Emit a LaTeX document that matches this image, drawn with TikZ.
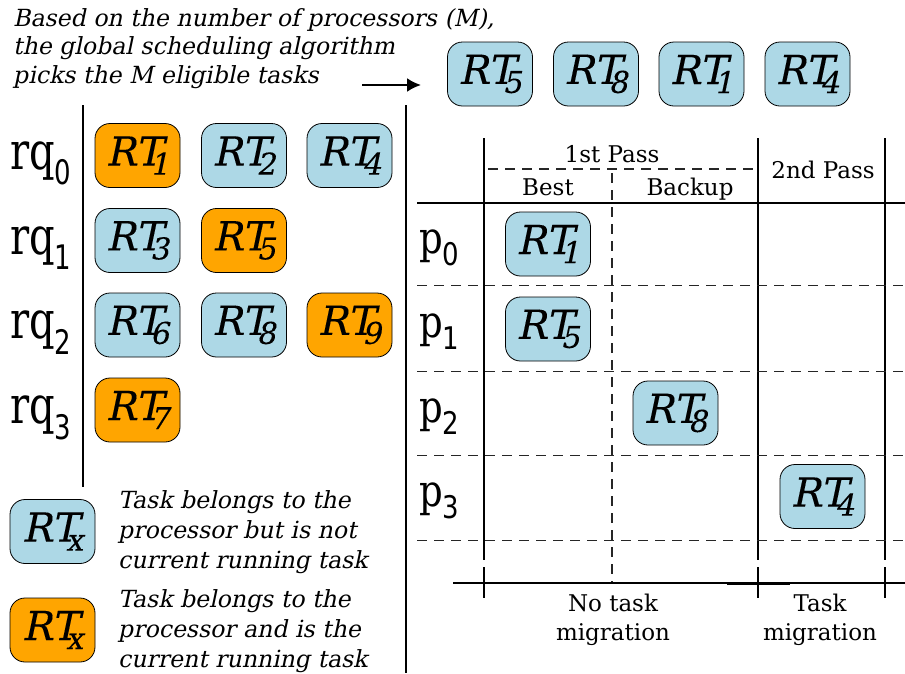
\documentclass[tikz,border=0pt]{standalone}
\usepackage{fontspec}
\setmainfont{DejaVu Serif}[ItalicFont={DejaVu Serif}, ItalicFeatures={FakeSlant=0.21}]
\newfontfamily\dsans{DejaVu Sans}
\newfontfamily\rtfont{DejaVu Serif}[FakeSlant=0.21, FakeBold=0.15]
\usetikzlibrary{arrows.meta}
\definecolor{boxblue}{RGB}{173,216,230}
\definecolor{boxorange}{RGB}{255,165,0}
\newcommand\rtlab[1]{\rtfont\fontsize{40}{40}\selectfont RT\kern-0.3em\raisebox{-9pt}{\fontsize{30}{30}\selectfont #1}}
\newcommand\rqlab[2]{\scalebox{1}[1.3]{\fontsize{40}{40}\selectfont #1\raisebox{-12pt}{\dsans\fontsize{26}{26}\selectfont #2}}}
\newcommand\plab[2]{\scalebox{1}[1.2]{\fontsize{37}{37}\selectfont #1\raisebox{-10pt}{\dsans\fontsize{26}{26}\selectfont #2}}}
\begin{document}
\begin{tikzpicture}[x=1pt,y=-1pt,
  rtbox/.style={draw=black, line width=0.8pt, rounded corners=15pt, minimum width=85pt, minimum height=64pt, inner sep=0pt},
  bbox/.style={rtbox, fill=boxblue},
  obox/.style={rtbox, fill=boxorange},
  itxt/.style={anchor=base west, inner sep=0pt, font=\fontsize{23.6}{23.6}\selectfont\itshape},
  htxt/.style={anchor=base, inner sep=0pt, font=\fontsize{23}{23}\selectfont},
  lab/.style={anchor=base west, inner sep=0pt},
  sep/.style={line width=1.3pt},
  solid line/.style={line width=1.8pt},
  dline/.style={line width=1pt, draw=black!85, dash pattern=on 10pt off 7pt},
]
\path[use as bounding box] (0,0) rectangle (905,673);

% top text
\node[itxt] (t1) at (13,26) {Based on the number of processors (M),};
\node[itxt] (t2) at (13,54.5) {the global scheduling algorithm};
\node[itxt] (t3) at (13,83) {picks the M eligible tasks};
\coordinate (a1) at (362,85);
\coordinate (a2) at (421,85);
\draw[line width=2.2pt, -{Latex[length=14pt,width=14pt]}] (a1) -- (a2);

% picked tasks
\node[bbox] (s1) at (490,74) {\rtlab{5}};
\node[bbox] (s2) at (596,74) {\rtlab{8}};
\node[bbox] (s3) at (701.5,74) {\rtlab{1}};
\node[bbox] (s4) at (807.5,74) {\rtlab{4}};

% separators
\coordinate (v1a) at (83,105); \coordinate (v1b) at (83,487);
\coordinate (v2a) at (406,105); \coordinate (v2b) at (406,673);
\draw[sep] (v1a) -- (v1b);
\draw[sep] (v2a) -- (v2b);

% run queues
\node[lab] (rq0) at (10,169) {\rqlab{rq}{0}};
\node[lab] (rq1) at (10,254) {\rqlab{rq}{1}};
\node[lab] (rq2) at (10,338.5) {\rqlab{rq}{2}};
\node[lab] (rq3) at (10,423.5) {\rqlab{rq}{3}};

\node[obox] (q01) at (137.5,155.5) {\rtlab{1}};
\node[bbox] (q02) at (244,155.5) {\rtlab{2}};
\node[bbox] (q04) at (349.5,155.5) {\rtlab{4}};
\node[bbox] (q13) at (137.5,240.5) {\rtlab{3}};
\node[obox] (q15) at (244,240.5) {\rtlab{5}};
\node[bbox] (q26) at (137.5,325) {\rtlab{6}};
\node[bbox] (q28) at (244,325) {\rtlab{8}};
\node[obox] (q29) at (349.5,325) {\rtlab{9}};
\node[obox] (q37) at (137.5,410) {\rtlab{7}};

% legend
\node[bbox] (lb) at (52.5,531.5) {\rtlab{x}};
\node[obox] (lo) at (52.5,630) {\rtlab{x}};
\node[itxt] (lb1) at (118,508) {Task belongs to the};
\node[itxt] (lb2) at (118,538) {processor but is not};
\node[itxt] (lb3) at (118,568) {current running task};
\node[itxt] (lo1) at (118,607) {Task belongs to the};
\node[itxt] (lo2) at (118,637) {processor and is the};
\node[itxt] (lo3) at (118,667) {current running task};

% table lines
\foreach \x/\n in {484/A,758/B,885/C}{
  \coordinate (top\n) at (\x,138);
  \coordinate (bot\n) at (\x,560);
  \draw[solid line] (top\n) -- (bot\n);
  \coordinate (tka\n) at (\x,567);
  \coordinate (tkb\n) at (\x,598);
  \draw[solid line] (tka\n) -- (tkb\n);
}
\coordinate (h1a) at (417,203); \coordinate (h1b) at (905,203);
\draw[solid line] (h1a) -- (h1b);
\coordinate (pa) at (488,169); \coordinate (pb) at (755,169);
\draw[dline, line width=1.5pt] (pa) -- (pb);
\coordinate (da) at (612,173); \coordinate (db) at (612,583);
\draw[dline, line width=1.5pt] (da) -- (db);
\foreach \y/\n in {285/1,371/2,455/3,540/4}{
  \coordinate (ra\n) at (417,\y);
  \coordinate (rb\n) at (905,\y);
  \draw[dline] (ra\n) -- (rb\n);
}
\coordinate (xa) at (453,583); \coordinate (xb) at (905,583);
\draw[solid line] (xa) -- (xb);
\coordinate (xc) at (727,583); \coordinate (xd) at (790,583);
\draw[line width=3pt] (xc) -- (xd);

% headers
\node[htxt] (h1) at (612,162) {1st Pass};
\node[htxt] (h2) at (548,195) {Best};
\node[htxt] (h3) at (690,195) {Backup};
\node[htxt] (h4) at (823,178) {2nd Pass};

% processors
\node[lab] (p0) at (419,253) {\plab{p}{0}};
\node[lab] (p1) at (419,337) {\plab{p}{1}};
\node[lab] (p2) at (419,422) {\plab{p}{2}};
\node[lab] (p3) at (419,506) {\plab{p}{3}};

\node[bbox] (c1) at (548,244) {\rtlab{1}};
\node[bbox] (c5) at (548,329) {\rtlab{5}};
\node[bbox] (c8) at (675.5,413) {\rtlab{8}};
\node[bbox] (c4) at (822.5,496.5) {\rtlab{4}};

% bottom labels
\node[htxt] (b1) at (613,611) {No task};
\node[htxt] (b2) at (613,640) {migration};
\node[htxt] (b3) at (820,611) {Task};
\node[htxt] (b4) at (820,640) {migration};
\end{tikzpicture}
\end{document}
